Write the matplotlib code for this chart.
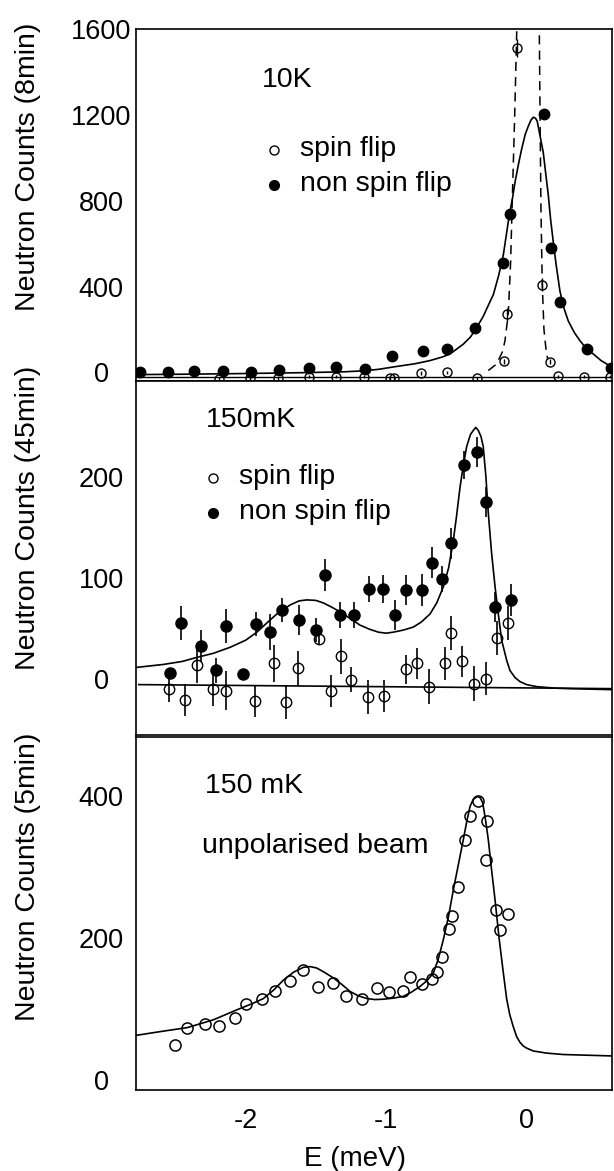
import matplotlib
matplotlib.use('Agg')
import matplotlib.pyplot as plt

plt.rcParams['font.family'] = ['Liberation Sans', 'DejaVu Sans']
plt.rcParams['axes.unicode_minus'] = False

# ---- top panel, 10K (8 min) ----
top_nsf_e = [-2.75, -2.55, -2.37, -2.16, -1.96, -1.76, -1.55, -1.36, -1.15, -0.96,
             -0.74, -0.57, -0.37, -0.17, -0.12, 0.12, 0.17, 0.24, 0.43, 0.60]
top_nsf_c = [0, 3, 5, 9, 2, 12, 20, 25, 17, 75,
             101, 109, 209, 509, 740, 1204, 578, 329, 110, 20]

top_sf_e = [-2.19, -1.97, -1.77, -1.55, -1.36, -1.16, -0.975, -0.945, -0.75, -0.565,
            -0.35, -0.16, -0.14, -0.07, 0.11, 0.165, 0.225, 0.41, 0.59]
top_sf_c = [-30, -25, -28, -20, -20, -20, -25, -25, -3, 0,
            -28, 53, 272, 1512, 409, 50, -18, -20, -20]
top_sf_err = [8, 8, 8, 8, 8, 8, 8, 8, 8, 8,
              8, 12, 30, 42, 30, 12, 8, 8, 8]

top_fit_e = [-2.78, -2.4, -2.0, -1.6, -1.3, -1.15, -1.05, -0.925, -0.8, -0.69,
             -0.6, -0.546, -0.5, -0.451, -0.40, -0.36, -0.31, -0.27, -0.237, -0.20,
             -0.166, -0.145, -0.124, -0.10, -0.083, -0.06, -0.036, -0.01, 0.012, 0.03,
             0.047, 0.062, 0.075, 0.09, 0.118, 0.135, 0.154, 0.17, 0.189, 0.21,
             0.237, 0.265, 0.296, 0.34, 0.379, 0.42, 0.474, 0.53, 0.607]
top_fit_c = [-10, -8, -5, -1, 3, 8, 15, 28, 40, 55,
             72, 86, 108, 132, 165, 205, 260, 317, 363, 450,
             548, 640, 732, 815, 886, 965, 1040, 1110, 1148, 1175,
             1189, 1185, 1171, 1120, 1025, 930, 825, 715, 609, 500,
             378, 300, 240, 185, 148, 115, 86, 55, 25]

top_sf_fit_e = [-0.273, -0.213, -0.17, -0.154, -0.131, -0.114, -0.105, -0.085, -0.071, -0.068,
                0.089, 0.090, 0.095, 0.102, 0.111, 0.123, 0.137, 0.15]
top_sf_fit_c = [9, 40, 100, 150, 272, 517, 743, 1204, 1583, 1650,
                1650, 1583, 1204, 743, 409, 200, 111, 60]
top_base_c = -22

# ---- middle panel, 150mK (45 min) ----
mid_nsf_e = [-2.537, -2.459, -2.319, -2.212, -2.139, -2.02, -1.925, -1.826, -1.738, -1.617,
             -1.501, -1.434, -1.325, -1.226, -1.120, -1.024, -0.937, -0.858, -0.747, -0.671,
             -0.600, -0.538, -0.446, -0.356, -0.292, -0.225, -0.114]
mid_nsf_c = [6, 55, 32, 8, 52, 5, 54, 46, 68, 58,
             48, 103, 63, 63, 89, 89, 63, 88, 88, 115,
             99, 134, 212, 225, 175, 71, 78]
mid_nsf_err = [0, 17, 16, 12, 17, 0, 12, 18, 12, 15,
               12, 16, 13, 13, 13, 14, 15, 15, 16, 15,
               13, 15, 14, 15, 15, 15, 16]

mid_sf_e = [-2.544, -2.430, -2.347, -2.233, -2.139, -1.932, -1.795, -1.714, -1.629, -1.479,
            -1.390, -1.321, -1.252, -1.129, -1.015, -0.861, -0.778, -0.693, -0.582, -0.540,
            -0.458, -0.375, -0.289, -0.213, -0.131]
mid_sf_c = [-10, -21, 13, -10, -12, -22, 15, -23, 10, 39,
            -12, 22, -1, -18, -17, 9, 15, -8, 15, 45,
            17, -5, 0, 40, 55]
mid_sf_err = [13, 16, 17, 17, 19, 16, 18, 17, 17, 5,
              16, 17, 12, 17, 16, 14, 15, 17, 16, 17,
              15, 17, 16, 17, 17]

mid_fit_e = [-2.78, -2.585, -2.45, -2.347, -2.23, -2.11, -2.0, -1.92, -1.85, -1.778,
             -1.683, -1.62, -1.565, -1.50, -1.447, -1.39, -1.326, -1.25, -1.186, -1.12,
             -1.055, -1.0, -0.949, -0.88, -0.807, -0.75, -0.688, -0.64, -0.593, -0.555,
             -0.522, -0.50, -0.474, -0.45, -0.427, -0.40, -0.38, -0.362, -0.344, -0.325,
             -0.309, -0.29, -0.273, -0.25, -0.225, -0.20, -0.178, -0.142, -0.119, -0.083,
             -0.048, 0.0, 0.071, 0.2, 0.308, 0.607]
mid_fit_c = [11, 14, 17, 21, 25, 31, 38, 46, 55, 64,
             73, 77, 78, 77.5, 75, 71, 66, 59, 53, 49,
             46, 45, 46, 48, 51, 56, 64, 75, 91, 110,
             137, 160, 190, 212, 230, 242, 246, 249, 246, 240,
             230, 200, 164, 125, 91, 62, 38, 18, 8, 1,
             -3, -6, -8, -9.5, -10, -11]
mid_base_e = [-2.76, 0.607]
mid_base_c = [-6, -10]

# ---- bottom panel, 150 mK unpolarised (5 min) ----
bot_e = [-2.501, -2.414, -2.288, -2.186, -2.075, -1.999, -1.880, -1.790, -1.683, -1.589,
         -1.482, -1.375, -1.287, -1.174, -1.067, -0.979, -0.882, -0.830, -0.743, -0.676,
         -0.640, -0.600, -0.550, -0.533, -0.486, -0.439, -0.403, -0.344, -0.284, -0.289,
         -0.220, -0.190, -0.135]
bot_c = [50, 74, 79, 76, 88, 107, 114, 126, 140, 155,
         131, 137, 119, 114, 130, 124, 125, 145, 136, 143,
         152, 174, 213, 231, 272, 338, 373, 393, 365, 310,
         240, 211, 234]

bot_fit_e = [-2.78, -2.585, -2.414, -2.229, -2.063, -1.95, -1.873, -1.80, -1.731, -1.66,
             -1.589, -1.54, -1.494, -1.44, -1.375, -1.31, -1.257, -1.20, -1.138, -1.08,
             -1.020, -0.95, -0.878, -0.82, -0.759, -0.71, -0.664, -0.63, -0.593, -0.555,
             -0.522, -0.485, -0.451, -0.425, -0.403, -0.38, -0.351, -0.33, -0.313, -0.295,
             -0.273, -0.25, -0.225, -0.195, -0.166, -0.142, -0.12, -0.095, -0.071, -0.047,
             -0.024, 0.0, 0.047, 0.142, 0.260, 0.607]
bot_fit_c = [63, 69, 74, 85, 99, 108, 115, 127, 141, 152,
             159, 160, 158, 152, 144, 134, 125, 119, 115, 113.5,
             114, 115.5, 118, 124, 132, 140, 151, 170, 198, 232,
             268, 305, 339, 366, 386, 396, 400, 398, 391, 370,
             339, 297, 254, 198, 151, 114, 92, 75, 61, 53,
             48, 45, 41, 38, 36, 34]

xticks = [-2, -1, 0]
xticklabels = ['-2', '-1', '0']

FS_TICK = 19.5
FS_TEXT = 20.5
fig = plt.figure(figsize=(6.14, 11.71), dpi=100)

ax1 = fig.add_axes([0.2215, 0.6746, 0.7752, 0.3006])
ax2 = fig.add_axes([0.2215, 0.3723, 0.7752, 0.3023])
ax3 = fig.add_axes([0.2215, 0.0692, 0.7752, 0.3015])

# top panel
ax1.plot(top_fit_e, top_fit_c, color='black', lw=1.2)
ax1.plot(top_sf_fit_e, top_sf_fit_c, color='black', lw=1.1, linestyle=(0, (6, 4)))
ax1.axhline(top_base_c, color='black', lw=1.0)
ax1.errorbar(top_sf_e, top_sf_c, yerr=top_sf_err, fmt='o', ms=6.5, mfc='none',
             mec='black', mew=1.0, ecolor='black', elinewidth=1.0, capsize=0)
ax1.plot(top_nsf_e, top_nsf_c, 'o', ms=7.5, color='black')
ax1.set_ylim(-40, 1600)
ax1.set_yticks([0, 400, 800, 1200, 1600])

# middle panel
ax2.plot(mid_fit_e, mid_fit_c, color='black', lw=1.2)
ax2.plot(mid_base_e, mid_base_c, color='black', lw=1.2)
ax2.errorbar(mid_sf_e, mid_sf_c, yerr=mid_sf_err, fmt='o', ms=7.5, mfc='none',
             mec='black', mew=1.0, ecolor='black', elinewidth=1.2, capsize=0)
ax2.errorbar(mid_nsf_e, mid_nsf_c, yerr=mid_nsf_err, fmt='o', ms=8, color='black',
             elinewidth=1.2, capsize=0)
ax2.set_ylim(-56, 295)
ax2.set_yticks([0, 100, 200])

# bottom panel
ax3.plot(bot_fit_e, bot_fit_c, color='black', lw=1.2)
ax3.plot(bot_e, bot_c, 'o', ms=8, mfc='none', mec='black', mew=1.1)
ax3.set_ylim(-14, 484)
ax3.set_yticks([0, 200, 400])

for ax in [ax1, ax2, ax3]:
    ax.set_xlim(-2.78, 0.607)
    ax.set_xticks(xticks)
    ax.tick_params(length=0, labelsize=FS_TICK)
    ax.tick_params(axis='y', pad=25)
    for lab in ax.get_yticklabels():
        lab.set_horizontalalignment('center')
    for sp in ax.spines.values():
        sp.set_linewidth(1.2)

ax1.set_xticklabels([])
ax2.set_xticklabels([])
ax3.set_xticklabels(xticklabels)
ax3.tick_params(axis='x', pad=13)

# panel texts and legends
ax1.text(0.265, 0.855, '10K', transform=ax1.transAxes, fontsize=FS_TEXT, va='center')
ax1.plot([0.290], [0.656], 'o', ms=6.5, mfc='none', mec='black', mew=1.0,
         transform=ax1.transAxes)
ax1.text(0.344, 0.659, 'spin flip', transform=ax1.transAxes, fontsize=FS_TEXT, va='center')
ax1.plot([0.290], [0.557], 'o', ms=7, color='black', transform=ax1.transAxes)
ax1.text(0.344, 0.560, 'non spin flip', transform=ax1.transAxes, fontsize=FS_TEXT, va='center')

ax2.text(0.146, 0.890, '150mK', transform=ax2.transAxes, fontsize=FS_TEXT, va='center')
ax2.plot([0.161], [0.725], 'o', ms=6.5, mfc='none', mec='black', mew=1.0,
         transform=ax2.transAxes)
ax2.text(0.216, 0.729, 'spin flip', transform=ax2.transAxes, fontsize=FS_TEXT, va='center')
ax2.plot([0.161], [0.626], 'o', ms=7, color='black', transform=ax2.transAxes)
ax2.text(0.216, 0.631, 'non spin flip', transform=ax2.transAxes, fontsize=FS_TEXT, va='center')

ax3.text(0.145, 0.861, '150 mK', transform=ax3.transAxes, fontsize=FS_TEXT, va='center')
ax3.text(0.138, 0.691, 'unpolarised beam', transform=ax3.transAxes, fontsize=FS_TEXT, va='center')

# y labels sit a bit above the panel centres in the original
fig.text(0.0448, 0.8576, 'Neutron Counts (8min)', rotation=90, fontsize=FS_TEXT,
         ha='center', va='center')
fig.text(0.0448, 0.5577, 'Neutron Counts (45min)', rotation=90, fontsize=FS_TEXT,
         ha='center', va='center')
fig.text(0.0448, 0.2513, 'Neutron Counts (5min)', rotation=90, fontsize=FS_TEXT,
         ha='center', va='center')
fig.text(0.578, 0.0102, 'E (meV)', fontsize=20, ha='center', va='center')

fig.savefig('out.png', dpi=100)
